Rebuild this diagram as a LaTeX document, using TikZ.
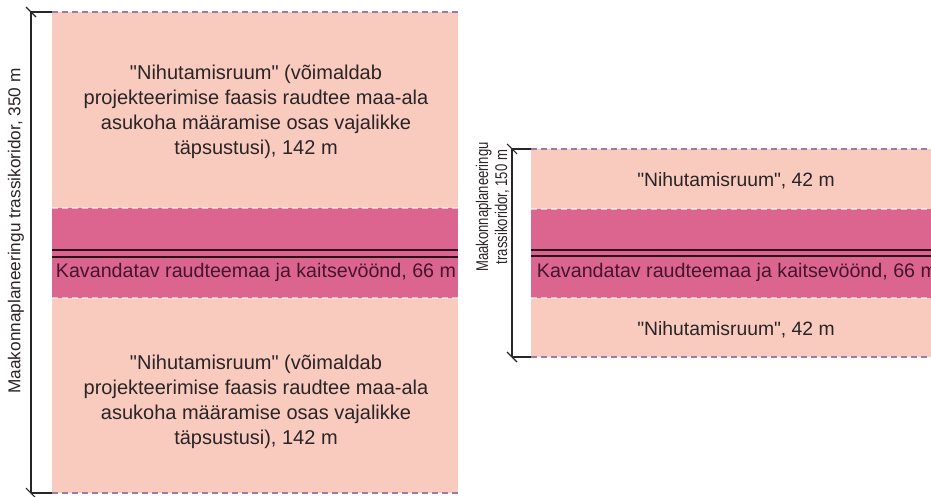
\documentclass[tikz,border=0pt]{standalone}
\usepackage{fontspec}
\setmainfont{Liberation Sans}[Ligatures=TeXOff]
\definecolor{shiftzone}{HTML}{F9CBBF}
\definecolor{railzone}{HTML}{DC6590}
\definecolor{outeredge}{HTML}{A07AA0}
\definecolor{railline}{HTML}{2A1018}
\definecolor{labeltext}{HTML}{2A2426}
\definecolor{bandtext}{HTML}{45152C}
\begin{document}
\begin{tikzpicture}[x=0.75pt,y=-0.75pt,
  zonetext/.style={text=labeltext, font=\fontsize{15}{18.75}\selectfont, align=center, inner sep=0pt},
  bandlabel/.style={text=bandtext, font=\fontsize{14.75}{18}\selectfont, align=center, inner sep=0pt},
  dimtext/.style={text=labeltext, align=center, inner sep=0pt, rotate=90},
  outerdash/.style={outeredge, line width=1.2pt, dash pattern=on 4.5pt off 3pt},
  innerdash/.style={white, opacity=0.55, line width=1pt, dash pattern=on 4.5pt off 3pt},
  rail/.style={railline, line width=1.5pt},
  dimline/.style={black!85, line width=0.8pt}]
\useasboundingbox (0,0) rectangle (931,496);

% ---- 350 m corridor ----
\fill[shiftzone] (52,12) rectangle (458,493);
\fill[railzone] (52,208) rectangle (458,298);
\draw[outerdash] (52,12) -- (458,12);
\draw[outerdash] (52,493) -- (458,493);
\draw[innerdash] (52,208) -- (458,208);
\draw[innerdash] (52,298) -- (458,298);
\draw[rail] (52,250) -- (458,250);
\draw[rail] (52,257) -- (458,257);

\coordinate (Ltop) at (31,12);
\coordinate (Lbot) at (31,493);
\draw[dimline] (Ltop) -- (Lbot);
\draw[dimline] (Ltop) -- ++(21,0);
\draw[dimline] (Lbot) -- ++(21,0);
\draw[dimline] (Ltop) ++(-5,-5) -- ++(10,10);
\draw[dimline] (Lbot) ++(-5,-5) -- ++(10,10);
\node[dimtext, font=\fontsize{12.9}{13}\selectfont] (Ldim) at (16,231) {Maakonnaplaneeringu trassikoridor, 350 m};

\node[zonetext] (Ltopzone) at (256,112) {"Nihutamisruum" (võimaldab\\projekteerimise faasis raudtee maa-ala\\asukoha määramise osas vajalikke\\täpsustusi), 142 m};
\node[bandlabel] (Lrail) at (256,272) {Kavandatav raudteemaa ja kaitsevöönd, 66 m};
\node[zonetext] (Lbotzone) at (256,402) {"Nihutamisruum" (võimaldab\\projekteerimise faasis raudtee maa-ala\\asukoha määramise osas vajalikke\\täpsustusi), 142 m};

% ---- 150 m corridor ----
\begin{scope}
\clip (500,100) rectangle (931,400);
\fill[shiftzone] (531,149) rectangle (941,357);
\fill[railzone] (531,209) rectangle (941,298);
\draw[outerdash] (531,149) -- (941,149);
\draw[outerdash] (531,357) -- (941,357);
\draw[innerdash] (531,209) -- (941,209);
\draw[innerdash] (531,298) -- (941,298);
\draw[rail] (531,250) -- (941,250);
\draw[rail] (531,256) -- (941,256);
\node[zonetext, font=\fontsize{14.5}{17}\selectfont] (Rtopzone) at (736,181) {"Nihutamisruum", 42 m};
\node[bandlabel] (Rrail) at (737,272) {Kavandatav raudteemaa ja kaitsevöönd, 66 m};
\node[zonetext, font=\fontsize{14.5}{17}\selectfont] (Rbotzone) at (736,330) {"Nihutamisruum", 42 m};
\end{scope}

\coordinate (Rtop) at (512,149);
\coordinate (Rbot) at (512,357);
\draw[dimline] (Rtop) -- (Rbot);
\draw[dimline] (Rtop) -- ++(19,0);
\draw[dimline] (Rbot) -- ++(19,0);
\draw[dimline] (Rtop) ++(-5,-5) -- ++(10,10);
\draw[dimline] (Rbot) ++(-5,-5) -- ++(10,10);
% the narrow label is set condensed along its run
\node[dimtext, yscale=1.3, font=\fontsize{9.8}{11}\selectfont] (Rdim) at (492.5,207) {Maakonnaplaneeringu\\trassikoridor, 150 m};
\end{tikzpicture}
\end{document}
